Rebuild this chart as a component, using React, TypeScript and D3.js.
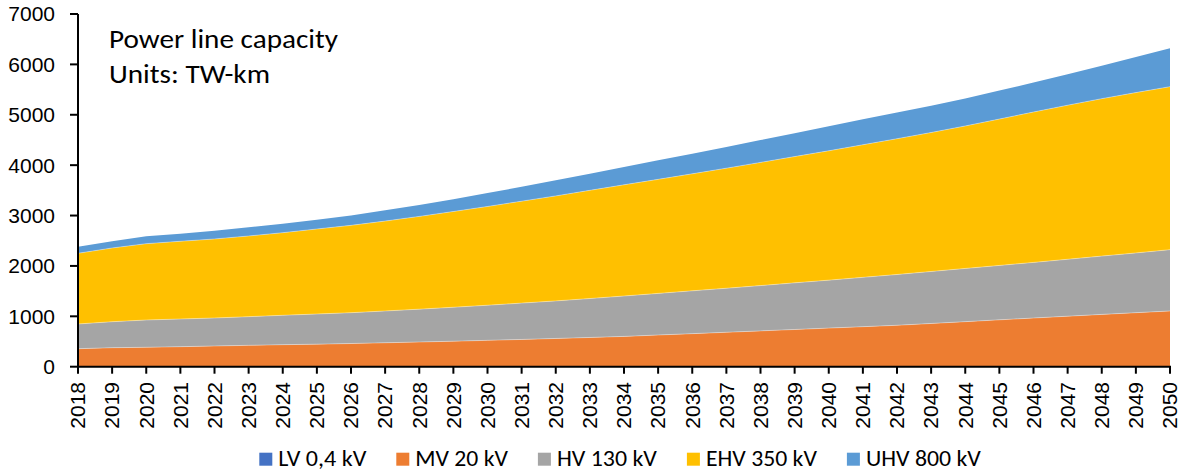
import React, { useEffect, useRef } from "react";
import * as d3 from "d3";

const years = [
  2018, 2019, 2020, 2021, 2022, 2023, 2024, 2025, 2026, 2027, 2028,
  2029, 2030, 2031, 2032, 2033, 2034, 2035, 2036, 2037, 2038, 2039,
  2040, 2041, 2042, 2043, 2044, 2045, 2046, 2047, 2048, 2049, 2050,
];

const seriesNames = ["LV 0,4 kV", "MV 20 kV", "HV 130 kV", "EHV 350 kV", "UHV 800 kV"];
const seriesColors = ["#4472C4", "#ED7D31", "#A5A5A5", "#FFC000", "#5B9BD5"];

const lv = [
  0, 0, 0, 0, 0, 0, 0, 0, 0, 0, 0, 0, 0, 0, 0, 0, 0,
  0, 0, 0, 0, 0, 0, 0, 0, 0, 0, 0, 0, 0, 0, 0, 0,
];
const mv = [
  357, 377, 385, 397, 411, 424, 437, 447, 460, 475, 490, 506, 523, 541, 560, 580, 601,
  629, 656, 683, 711, 738, 766, 794, 822, 858, 894, 930, 966, 1002, 1038, 1072, 1106,
];
const hv = [
  491, 516, 542, 550, 556, 569, 583, 599, 612, 631, 652, 674, 697, 721, 746, 773, 802,
  826, 850, 874, 899, 926, 952, 979, 1008, 1032, 1056, 1080, 1104, 1130, 1157, 1186, 1217,
];
const ehv = [
  1403, 1463, 1515, 1542, 1568, 1601, 1640, 1687, 1733, 1784, 1841, 1900, 1960, 2023, 2084, 2147, 2207,
  2263, 2322, 2383, 2445, 2506, 2567, 2632, 2695, 2758, 2828, 2905, 2985, 3058, 3125, 3182, 3235,
];
const uhv = [
  131, 133, 146, 152, 165, 173, 178, 185, 195, 213, 228, 245, 265, 285, 308, 330, 355,
  377, 399, 421, 442, 463, 486, 505, 520, 532, 547, 565, 585, 615, 655, 705, 762,
];

const yTicks = [0, 1000, 2000, 3000, 4000, 5000, 6000, 7000];
const titleLines = ["Power line capacity", "Units: TW-km"];
const titleWidths = [229, 161];
const legendWidths = [88, 92.6, 100, 111, 115];

const W = 1179;
const H = 470;
const CAL = "Carlito, Calibri, Lato, sans-serif";
const ARI = "'Liberation Sans', Arial, sans-serif";

export default function App() {
  const ref = useRef<SVGSVGElement | null>(null);

  useEffect(() => {
    const svg = d3.select(ref.current);
    svg.selectAll("*").remove();

    const x = d3.scaleLinear().domain([2018, 2050]).range([78, 1170]);
    const y = d3.scaleLinear().domain([0, 7000]).range([366.7, 14]);

    const rows = years.map((yr, i) => ({
      year: yr,
      [seriesNames[0]]: lv[i],
      [seriesNames[1]]: mv[i],
      [seriesNames[2]]: hv[i],
      [seriesNames[3]]: ehv[i],
      [seriesNames[4]]: uhv[i],
    }));

    const stack = d3.stack<any>().keys(seriesNames);
    const layers = stack(rows as any);

    const area = d3
      .area<any>()
      .x((d) => x(d.data.year))
      .y0((d) => y(d[0]))
      .y1((d) => y(d[1]))
      .curve(d3.curveLinear);

    svg
      .append("g")
      .selectAll("path")
      .data(layers)
      .join("path")
      .attr("d", (d) => area(d) as string)
      .attr("fill", (_d, i) => seriesColors[i]);

    const line = d3
      .line<any>()
      .x((d) => x(d.data.year))
      .y((d) => y(d[1]));
    svg
      .append("g")
      .selectAll("path")
      .data(layers.slice(1, 4))
      .join("path")
      .attr("d", (d) => line(d) as string)
      .attr("fill", "none")
      .attr("stroke", "#ffffff")
      .attr("stroke-opacity", 0.35)
      .attr("stroke-width", 1);

    // Y axis
    const yAxis = svg.append("g");
    yAxis
      .append("line")
      .attr("x1", 78)
      .attr("x2", 78)
      .attr("y1", y(7000))
      .attr("y2", y(0))
      .attr("stroke", "#000")
      .attr("stroke-width", 2);
    yAxis
      .selectAll("line.tick")
      .data(yTicks)
      .join("line")
      .attr("class", "tick")
      .attr("x1", 70)
      .attr("x2", 78)
      .attr("y1", (d) => y(d))
      .attr("y2", (d) => y(d))
      .attr("stroke", "#000")
      .attr("stroke-width", 2);
    yAxis
      .selectAll("text")
      .data(yTicks)
      .join("text")
      .attr("x", 55)
      .attr("y", (d) => y(d))
      .attr("dy", "0.35em")
      .attr("text-anchor", "end")
      .attr("font-family", ARI)
      .attr("font-size", 21)
      .attr("fill", "#000")
      .text((d) => String(d));

    // X axis
    const xAxis = svg.append("g");
    xAxis
      .append("line")
      .attr("x1", x(2018) - 1)
      .attr("x2", x(2050) + 1)
      .attr("y1", y(0))
      .attr("y2", y(0))
      .attr("stroke", "#000")
      .attr("stroke-width", 2);
    xAxis
      .selectAll("line.tick")
      .data(years)
      .join("line")
      .attr("class", "tick")
      .attr("x1", (d) => x(d))
      .attr("x2", (d) => x(d))
      .attr("y1", y(0))
      .attr("y2", y(0) + 7)
      .attr("stroke", "#000")
      .attr("stroke-width", 2);
    xAxis
      .selectAll("text")
      .data(years)
      .join("text")
      .attr("transform", (d) => `translate(${x(d)},382) rotate(-90)`)
      .attr("dy", "0.35em")
      .attr("text-anchor", "end")
      .attr("font-family", ARI)
      .attr("font-size", 21)
      .attr("fill", "#000")
      .text((d) => String(d));

    // Title
    svg
      .append("g")
      .selectAll("text")
      .data(titleLines)
      .join("text")
      .attr("x", 109)
      .attr("y", (_d, i) => 48 + i * 35)
      .attr("font-family", CAL)
      .attr("font-size", 27)
      .attr("textLength", (_d, i) => titleWidths[i])
      .attr("lengthAdjust", "spacingAndGlyphs")
      .attr("fill", "#000")
      .text((d) => d);

    // Legend
    const lg = svg.append("g");
    let cx = 259.3;
    seriesNames.forEach((name, i) => {
      lg.append("rect")
        .attr("x", cx)
        .attr("y", 452.7)
        .attr("width", 13)
        .attr("height", 13)
        .attr("fill", seriesColors[i]);
      lg.append("text")
        .attr("x", cx + 19)
        .attr("y", 465.7)
        .attr("font-family", CAL)
        .attr("font-size", 21.5)
        .attr("textLength", legendWidths[i])
        .attr("lengthAdjust", "spacingAndGlyphs")
        .attr("fill", "#000")
        .text(name);
      cx = cx + 19 + legendWidths[i] + 30;
    });
  }, []);

  return (
    <svg
      ref={ref}
      width={W}
      height={H}
      style={{ position: "absolute", left: 0, top: 0, background: "#fff" }}
    />
  );
}
